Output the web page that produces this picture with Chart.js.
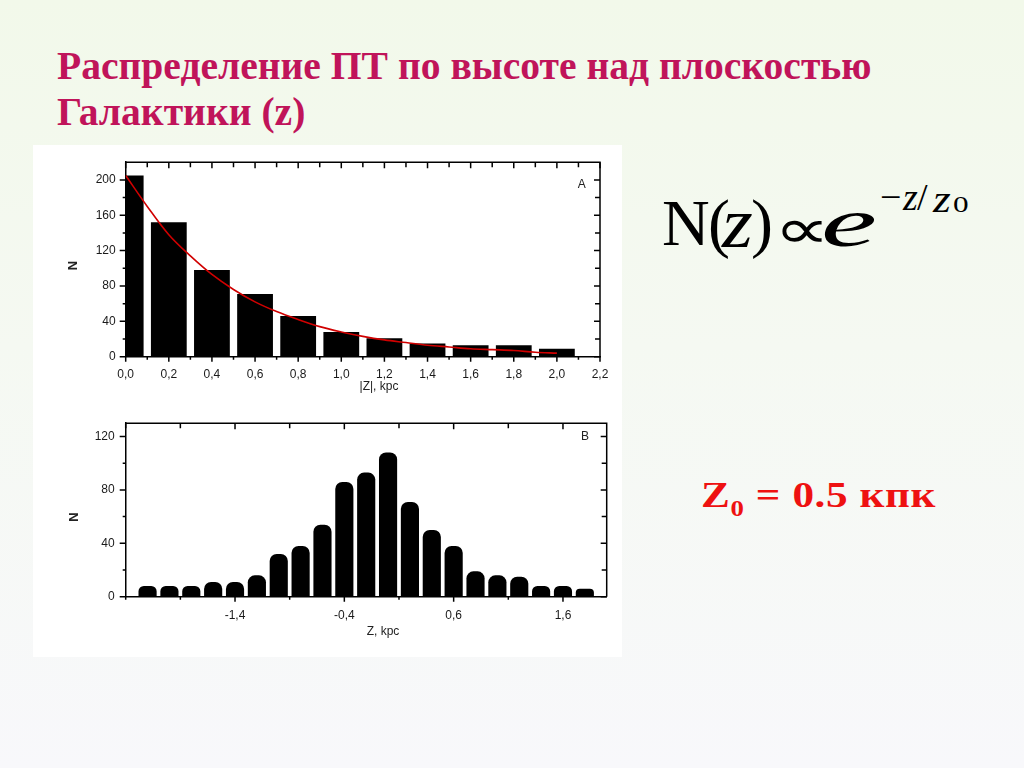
<!DOCTYPE html>
<html><head><meta charset="utf-8">
<script src="https://cdn.jsdelivr.net/npm/chart.js@4.4.1/dist/chart.umd.min.js"></script>
<style>
html,body{margin:0;padding:0;}
body{width:1024px;height:768px;position:relative;overflow:hidden;background:linear-gradient(180deg,#f2f9ea 0%,#f5f9f2 45%,#f8f8fb 100%);}
#title{position:absolute;left:57px;top:44px;font-family:"Liberation Serif",serif;font-weight:bold;font-size:39.6px;line-height:45.7px;color:#c0145a;white-space:nowrap;}
#panel{position:absolute;left:33px;top:145px;width:589px;height:512px;background:#fff;}
#box1{position:absolute;left:0;top:0;width:589px;height:260px;}
#box2{position:absolute;left:0;top:260px;width:589px;height:252px;}
#formula span{position:absolute;font-family:"Liberation Serif",serif;color:#000;white-space:nowrap;transform-origin:0 0;}
#z0{position:absolute;left:701px;top:476.5px;font-family:"Liberation Serif",serif;font-weight:bold;font-size:36px;line-height:36px;letter-spacing:0.5px;color:#ee1111;white-space:nowrap;transform:scaleX(1.2);transform-origin:0 0;}
#z0 sub{font-size:0.62em;vertical-align:-0.42em;line-height:0;}
</style>
</head><body>
<div id="title">Распределение ПТ по высоте над плоскостью<br>Галактики (z)</div>
<div id="panel">
  <div id="box1"><canvas id="c1"></canvas></div>
  <div id="box2"><canvas id="c2"></canvas></div>
</div>
<div id="formula">
  <span style="left:662px;top:189.7px;font-size:66px;line-height:66px;">N</span>
  <span style="left:708px;top:189.7px;font-size:66px;line-height:66px;">(</span>
  <span style="left:722px;top:186.7px;font-size:72px;line-height:72px;font-style:italic;transform:scaleX(1.1);">z</span>
  <span style="left:751px;top:189.7px;font-size:66px;line-height:66px;">)</span>
  <span style="left:774px;top:200.6px;font-size:56px;line-height:56px;font-family:'DejaVu Sans';transform:scaleX(1.4);">∝</span>
  <span style="left:821px;top:188.4px;font-size:70px;line-height:70px;font-style:italic;transform:scaleX(1.8);">e</span>
  <span style="left:880px;top:177.7px;font-size:38px;line-height:38px;">−</span>
  <span style="left:903px;top:177.7px;font-size:38px;line-height:38px;font-style:italic;">z</span>
  <span style="left:917px;top:177.7px;font-size:38px;line-height:38px;">/</span>
  <span style="left:933px;top:179.9px;font-size:38px;line-height:38px;font-style:italic;transform:scaleX(1.2);">z</span>
  <span style="left:953px;top:191.9px;font-size:24px;line-height:24px;transform:scaleX(1.3);">0</span>
</div>
<div id="z0">Z<sub>0</sub> = 0.5 кпк</div>
<script>
// ---- data: panel A (|Z| histogram + exponential fit) ----
const topBinCenters = [0.0, 0.2, 0.4, 0.6, 0.8, 1.0, 1.2, 1.4, 1.6, 1.8, 2.0];
const topCounts     = [205, 152, 98, 71, 46, 28, 21, 15, 13, 13, 9];
const fitZ = [0.0,0.1,0.2,0.3,0.4,0.5,0.6,0.7,0.8,0.9,1.0,1.1,1.2,1.3,1.4,1.5,1.6,1.7,1.8,1.9,2.0];
const fitN = [205,170,138,114,93,76,62,51,42,34,28,23,19,16,13,11,9,8,7,5,4];
const topXTicks      = [0.0,0.2,0.4,0.6,0.8,1.0,1.2,1.4,1.6,1.8,2.0,2.2];
const topXMinorTicks = [0.1,0.3,0.5,0.7,0.9,1.1,1.3,1.5,1.7,1.9,2.1];
const topYTicks      = [0,40,80,120,160,200];
const topYMinorTicks = [20,60,100,140,180];

// ---- data: panel B (Z histogram) ----
const botBinCenters = [-2.2,-2.0,-1.8,-1.6,-1.4,-1.2,-1.0,-0.8,-0.6,-0.4,-0.2,0.0,0.2,0.4,0.6,0.8,1.0,1.2,1.4,1.6,1.8];
const botCounts     = [8,8,8,11,11,16,32,38,54,86,93,108,71,50,38,19,16,15,8,8,6];
const botXTicks      = [-1.4,-0.4,0.6,1.6];
const botXMinorTicks = [-2.4,-1.9,-0.9,0.1,1.1];
const botYTicks      = [0,40,80,120];
const botYMinorTicks = [20,60,100];

const fmtX = v => Number(v).toFixed(1).replace('.', ',');
const fmtY = v => String(Math.round(v));

const frame = {
  id: 'frame',
  afterDraw(chart, args, o) {
    const {ctx, chartArea: a, scales: {x, y}} = chart;
    ctx.save();
    ctx.strokeStyle = '#000';
    ctx.lineWidth = 1.5;
    ctx.beginPath();
    ctx.moveTo(a.left, a.top); ctx.lineTo(a.right, a.top); ctx.lineTo(a.right, a.bottom);
    ctx.stroke();
    ctx.beginPath();
    const line = (x1, y1, x2, y2) => { ctx.moveTo(x1, y1); ctx.lineTo(x2, y2); };
    o.xMajor.forEach(v => { const p = x.getPixelForValue(v); line(p, a.bottom, p, a.bottom + 5); line(p, a.top, p, a.top + 6); });
    o.xMinor.forEach(v => { const p = x.getPixelForValue(v); line(p, a.bottom, p, a.bottom + 3); line(p, a.top, p, a.top + 5); });
    o.yMajor.forEach(v => { const p = y.getPixelForValue(v); line(a.left - 6, p, a.left, p); line(a.right - 6, p, a.right, p); });
    o.yMinor.forEach(v => { const p = y.getPixelForValue(v); line(a.left - 3, p, a.left, p); line(a.right - 5, p, a.right, p); });
    ctx.stroke();
    ctx.fillStyle = '#222';
    ctx.textAlign = 'center'; ctx.textBaseline = 'middle';
    o.texts.forEach(t => {
      ctx.save();
      ctx.font = t.font;
      ctx.translate(t.x, t.y);
      if (t.rot) ctx.rotate(t.rot);
      ctx.fillText(t.text, 0, 0);
      ctx.restore();
    });
    ctx.restore();
  }
};

const tickFont = {family: 'Liberation Sans', size: 12};
function axisX(min, max, ticks, pad, h) {
  return {
    type: 'linear', min, max, offset: false,
    afterBuildTicks: s => { s.ticks = ticks.map(v => ({value: v})); },
    ticks: {callback: v => fmtX(v), padding: pad, font: tickFont, color: '#1a1a1a', maxRotation: 0, autoSkip: false},
    grid: {display: false, drawTicks: false, offset: false},
    border: {display: true, color: '#000', width: 1.5},
    afterFit: s => { s.height = h; }
  };
}
function axisY(min, max, ticks, pad, w) {
  return {
    type: 'linear', min, max,
    afterBuildTicks: s => { s.ticks = ticks.map(v => ({value: v})); },
    ticks: {callback: v => fmtY(v), padding: pad, font: tickFont, color: '#1a1a1a', autoSkip: false},
    grid: {display: false, drawTicks: false},
    border: {display: true, color: '#000', width: 1.5},
    afterFit: s => { s.width = w; }
  };
}

new Chart(document.getElementById('c1'), {
  data: {
    datasets: [
      {type: 'line', label: 'fit', data: fitZ.map((z, i) => ({x: z, y: fitN[i]})), borderColor: '#d00000', borderWidth: 1.6, pointRadius: 0, tension: 0.35, order: 0, clip: 0},
      {type: 'bar', label: 'N', data: topBinCenters.map((z, i) => ({x: z, y: topCounts[i]})), backgroundColor: '#000', barPercentage: 0.83, categoryPercentage: 1.0, order: 1, clip: 0}
    ]
  },
  options: {
    responsive: true, maintainAspectRatio: false, animation: false,
    layout: {padding: {left: 0, right: 22, top: 16, bottom: 0}},
    plugins: {legend: {display: false}, tooltip: {enabled: false},
      frame: {xMajor: topXTicks, xMinor: topXMinorTicks, yMajor: topYTicks, yMinor: topYMinorTicks,
        texts: [
          {text: 'N', x: 40, y: 120.5, rot: -Math.PI / 2, font: 'bold 13px "Liberation Sans"'},
          {text: '|Z|, kpc', x: 346, y: 241.5, font: '12px "Liberation Sans"'},
          {text: 'A', x: 548.7, y: 40, font: '12px "Liberation Sans"'}
        ]}},
    scales: {x: axisX(0, 2.2, topXTicks, 11, 48.3), y: axisY(0, 220, topYTicks, 10, 92.7)}
  },
  plugins: [frame]
});

new Chart(document.getElementById('c2'), {
  data: {
    datasets: [
      {type: 'bar', label: 'N', data: botBinCenters.map((z, i) => ({x: z, y: botCounts[i]})), backgroundColor: '#000', barPercentage: 0.83, categoryPercentage: 1.0,
       borderRadius: {topLeft: 7, topRight: 7, bottomLeft: 0, bottomRight: 0}, borderSkipped: false, clip: 0}
    ]
  },
  options: {
    responsive: true, maintainAspectRatio: false, animation: false,
    layout: {padding: {left: 0, right: 15.3, top: 9.7, bottom: 0}},
    plugins: {legend: {display: false}, tooltip: {enabled: false},
      frame: {xMajor: botXTicks, xMinor: botXMinorTicks, yMajor: botYTicks, yMinor: botYMinorTicks,
        texts: [
          {text: 'N', x: 41.5, y: 112, rot: -Math.PI / 2, font: 'bold 13px "Liberation Sans"'},
          {text: 'Z, kpc', x: 350, y: 227, font: '12px "Liberation Sans"'},
          {text: 'B', x: 552, y: 31.7, font: '12px "Liberation Sans"'}
        ]}},
    scales: {x: axisX(-2.4, 2.0, botXTicks, 12, 60.3), y: axisY(0, 130, botYTicks, 11, 92.7)}
  },
  plugins: [frame]
});
</script>
</body></html>
